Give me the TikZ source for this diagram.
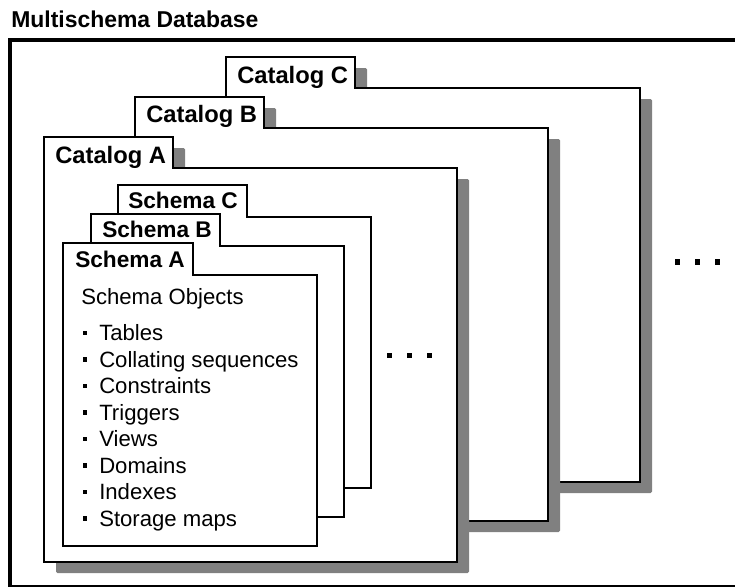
\documentclass[tikz,border=0pt]{standalone}
\usepackage{fontspec}
\setmainfont{Liberation Sans}
\definecolor{shadowgray}{RGB}{128,128,128}
\begin{document}
\begin{tikzpicture}[x=0.75pt,y=-0.75pt,
  box/.style={draw=black,fill=white,line width=1.35pt,line join=miter},
  shadowfill/.style={fill=shadowgray,shift={(12,11)}},
  framebox/.style={draw=black,line width=3pt},
  titletext/.style={anchor=base west,inner sep=0pt,font=\bfseries\fontsize{17.2pt}{20pt}\selectfont},
  catlabel/.style={anchor=base west,inner sep=0pt,font=\bfseries\fontsize{17.8pt}{20pt}\selectfont},
  schlabel/.style={anchor=base west,inner sep=0pt,font=\bfseries\fontsize{17pt}{20pt}\selectfont},
  itemtext/.style={anchor=base west,inner sep=0pt,font=\fontsize{16.6pt}{20pt}\selectfont},
  sqdot/.style={fill=black,draw=none,minimum size=3.8pt,inner sep=0pt,rectangle},
  bulletdot/.style={fill=black,draw=none,minimum size=3.2pt,inner sep=0pt,rectangle}
]
\useasboundingbox (0,0) rectangle (735,586);
\clip (0,0) rectangle (735,586);

% outer frame
\draw[framebox] (10,40) rectangle (760,586.5);
\node[titletext] (title) at (11,27) {Multischema Database};

% Catalog C
\fill[shadowfill,rounded corners=1pt] (226,482) -- (226,57) -- (355,57) -- (355,88) -- (640,88) -- (640,482) -- cycle;
\draw[box] (226,482) -- (226,57) -- (355,57) -- (355,88) -- (640,88) -- (640,482) -- cycle;
\node[catlabel] (catC) at (237,83) {Catalog C};

% Catalog B
\fill[shadowfill,rounded corners=1pt] (135,521) -- (135,97) -- (264,97) -- (264,128) -- (548,128) -- (548,521) -- cycle;
\draw[box] (135,521) -- (135,97) -- (264,97) -- (264,128) -- (548,128) -- (548,521) -- cycle;
\node[catlabel] (catB) at (146,122) {Catalog B};

% Catalog A
\fill[shadowfill,rounded corners=1pt] (44,562) -- (44,137) -- (173,137) -- (173,168) -- (457,168) -- (457,562) -- cycle;
\draw[box] (44,562) -- (44,137) -- (173,137) -- (173,168) -- (457,168) -- (457,562) -- cycle;
\node[catlabel] (catA) at (55,163) {Catalog A};

% Schema C
\draw[box] (118,488) -- (118,185) -- (247,185) -- (247,217) -- (371,217) -- (371,488) -- cycle;
\node[schlabel] (schC) at (128,208) {Schema C};

% Schema B
\draw[box] (91,517) -- (91,214) -- (220,214) -- (220,246) -- (344,246) -- (344,517) -- cycle;
\node[schlabel] (schB) at (102,237) {Schema B};

% Schema A
\draw[box] (63,546) -- (63,243) -- (193,243) -- (193,275) -- (317,275) -- (317,546) -- cycle;
\node[schlabel] (schA) at (75,267) {Schema A};

\node[itemtext] (objs) at (81,304) {Schema Objects};

\foreach \txt [count=\i from 0] in {Tables,Collating sequences,Constraints,Triggers,Views,Domains,Indexes,Storage maps}{
  \node[itemtext] (item\i) at (99,{340.5+26.5*\i}) {\txt};
  \node[bulletdot] (bul\i) at (85,{333+26.5*\i}) {};
}

% ellipsis dots
\node[sqdot] (d1) at (389.5,355.5) {};
\node[sqdot] (d2) at (409.5,355.5) {};
\node[sqdot] (d3) at (429.5,355.5) {};
\node[sqdot] (e1) at (677.5,262) {};
\node[sqdot] (e2) at (697.5,262) {};
\node[sqdot] (e3) at (717.5,262) {};
\end{tikzpicture}
\end{document}
